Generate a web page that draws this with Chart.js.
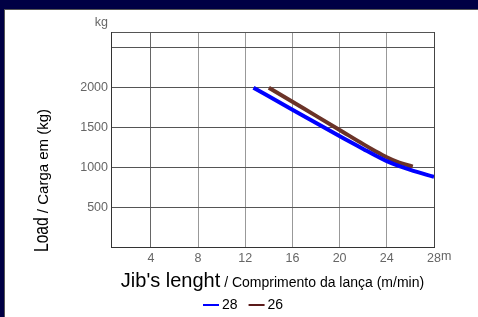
<!DOCTYPE html>
<html>
<head>
<meta charset="utf-8">
<script src="https://cdn.jsdelivr.net/npm/chart.js@4.4.4/dist/chart.umd.min.js"></script>
<style>
    html, body { margin: 0; padding: 0; background: #000044; }
    #chart { display: block; }
</style>
</head>
<body>
<canvas id="chart" width="478" height="317"></canvas>
<script>
// load curves
const seriesNames = ['28', '26'];
const jibLength28 = [12.7, 16, 20.4, 22, 23, 24, 25, 26, 28];
const load28 = [2000, 1725, 1360, 1232, 1152, 1078, 1018, 968, 880];
const jibLength26 = [14, 17, 20, 22, 23, 24, 25, 26.2];
const load26 = [2000, 1735, 1470, 1292, 1207, 1128, 1063, 1010];

const xTickValues = [4, 8, 12, 16, 20, 24, 28];
const yTickValues = [500, 1000, 1500, 2000, 2500];
const yLabelled = [500, 1000, 1500, 2000];
const xMin = 0.62, xMax = 28, yMin = 0, yMax = 2700;

const colors = ['#0000ff', '#6b3328'];
const legendColors = ['#0000ff', '#5a1a1a'];
const FONT = '"Liberation Sans", Arial, sans-serif';

const toPoints = (xs, ys) => xs.map((x, i) => ({ x, y: ys[i] }));

const frame = {
    id: 'frame',
    beforeDraw(chart) {
        const ctx = chart.ctx;
        ctx.save();
        ctx.fillStyle = '#000044';
        ctx.fillRect(0, 0, chart.width, chart.height);
        ctx.fillStyle = '#555555';
        ctx.fillRect(4, 9, chart.width - 4, chart.height - 9);
        ctx.fillStyle = '#ffffff';
        ctx.fillRect(5, 10, chart.width - 5, chart.height - 10);
        ctx.restore();
    }
};

const extras = {
    id: 'extras',
    afterDraw(chart) {
        const ctx = chart.ctx;
        const area = chart.chartArea;
        ctx.save();
        // unit labels
        ctx.fillStyle = '#666666';
        ctx.font = '12.5px ' + FONT;
        ctx.textBaseline = 'middle';
        ctx.textAlign = 'right';
        ctx.fillText('kg', 108, 23);
        ctx.textAlign = 'left';
        ctx.fillText('m', chart.scales.x.getPixelForValue(28) + 7, 257);

        // x title
        ctx.fillStyle = '#000000';
        ctx.textBaseline = 'alphabetic';
        ctx.font = '20px ' + FONT;
        const big = "Jib's lenght";
        const small = ' / Comprimento da lança (m/min)';
        const bigW = ctx.measureText(big).width;
        ctx.font = '14px ' + FONT;
        const smallW = ctx.measureText(small).width;
        const x0 = (area.left + area.right) / 2 - (bigW + smallW) / 2;
        ctx.font = '20px ' + FONT;
        ctx.fillText(big, x0, 287);
        ctx.font = '14px ' + FONT;
        ctx.fillText(small, x0 + bigW, 287);

        // y title
        ctx.save();
        ctx.translate(48, 252);
        ctx.rotate(-Math.PI / 2);
        ctx.font = '20px ' + FONT;
        ctx.save();
        ctx.scale(0.78, 1);
        ctx.fillText('Load', 0, 0);
        ctx.restore();
        const loadW = ctx.measureText('Load').width * 0.78;
        ctx.font = '15px ' + FONT;
        ctx.fillText(' / Carga em (kg)', loadW, 0);
        ctx.restore();

        // legend
        ctx.font = '14px ' + FONT;
        ctx.textBaseline = 'middle';
        let lx = 203;
        seriesNames.forEach((name, i) => {
            ctx.fillStyle = legendColors[i];
            ctx.fillRect(lx, 304, 16, 2);
            ctx.fillStyle = '#000000';
            ctx.fillText(name, lx + 19, 305);
            lx += 19 + ctx.measureText(name).width + 11;
        });
        ctx.restore();
    }
};

const vGrid = ctx => {
    const v = ctx.tick && ctx.tick.value;
    if (v === 28 || v === xMin) return '#444444';
    if (v === 4) return '#666666';
    return '#999999';
};

new Chart(document.getElementById('chart'), {
    type: 'line',
    data: {
        datasets: [
            {
                label: seriesNames[0],
                data: toPoints(jibLength28, load28),
                borderColor: colors[0],
                borderWidth: 4,
                pointRadius: 0,
                cubicInterpolationMode: 'monotone'
            },
            {
                label: seriesNames[1],
                data: toPoints(jibLength26, load26),
                borderColor: colors[1],
                borderWidth: 4,
                pointRadius: 0,
                cubicInterpolationMode: 'monotone'
            }
        ]
    },
    options: {
        responsive: false,
        animation: false,
        layout: { padding: { top: 32, right: 44, left: 0, bottom: 0 } },
        plugins: { legend: { display: false }, tooltip: { enabled: false } },
        scales: {
            x: {
                type: 'linear',
                min: xMin,
                max: xMax,
                afterBuildTicks: s => { s.ticks = [{ value: xMin }].concat(xTickValues.map(v => ({ value: v }))); },
                afterFit: s => { s.height = 70; },
                ticks: {
                    color: '#666666',
                    font: { size: 12.5, family: FONT },
                    padding: 4,
                    maxRotation: 0,
                    callback: v => (xTickValues.includes(v) ? String(v) : '')
                },
                grid: { color: vGrid, drawTicks: false },
                border: { color: '#333333' }
            },
            y: {
                min: yMin,
                max: yMax,
                afterBuildTicks: s => { s.ticks = yTickValues.concat([yMax]).map(v => ({ value: v })); },
                afterFit: s => { s.width = 111; },
                ticks: {
                    color: '#666666',
                    font: { size: 12.5, family: FONT },
                    padding: 3,
                    callback: v => (yLabelled.includes(v) ? String(v) : '')
                },
                grid: { color: '#555555', drawTicks: false },
                border: { color: '#333333' }
            }
        }
    },
    plugins: [frame, extras]
});
</script>
</body>
</html>
